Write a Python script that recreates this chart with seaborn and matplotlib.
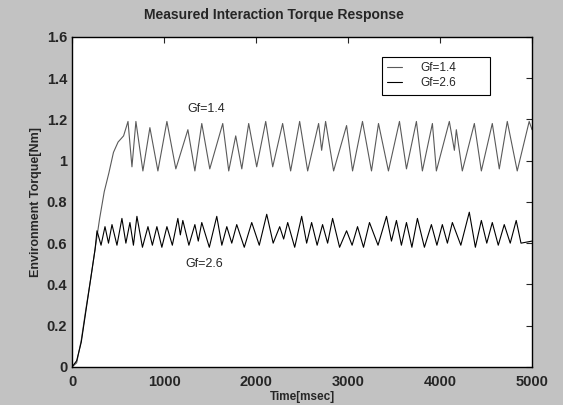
import matplotlib
matplotlib.use("Agg")
import matplotlib.pyplot as plt
import pandas as pd
import seaborn as sns

# vertices: time [msec], torque [Nm]
t_gf14 = [0, 50, 100, 150, 200, 250, 300, 350, 400, 450, 500, 560,
          608, 651, 694, 770, 846, 933, 1031, 1128, 1259, 1335, 1410, 1497,
          1638, 1703, 1779, 1845, 1920, 2007, 2105, 2181, 2289, 2376, 2474, 2561,
          2680, 2713, 2756, 2843, 2984, 3049, 3157, 3255, 3331, 3439, 3559, 3635,
          3743, 3808, 3917, 3960, 4101, 4156, 4177, 4242, 4373, 4449, 4568, 4644,
          4731, 4839, 4969, 5000]
v_gf14 = [0.0, 0.02, 0.13, 0.28, 0.42, 0.57, 0.72, 0.85, 0.94, 1.04, 1.09, 1.12,
          1.19, 0.97, 1.19, 0.95, 1.16, 0.95, 1.19, 0.96, 1.15, 0.95, 1.18, 0.96,
          1.18, 0.95, 1.12, 0.96, 1.18, 0.97, 1.19, 0.97, 1.18, 0.95, 1.19, 0.95,
          1.18, 1.05, 1.19, 0.95, 1.17, 0.95, 1.19, 0.95, 1.18, 0.95, 1.19, 0.96,
          1.19, 0.95, 1.18, 0.95, 1.19, 1.05, 1.15, 0.95, 1.18, 0.95, 1.18, 0.96,
          1.19, 0.95, 1.19, 1.15]

t_gf26 = [0, 50, 100, 150, 200, 250,
          271, 315, 358, 396, 434, 488, 542, 585, 629, 667, 705, 765, 825, 873,
          922, 976, 1031, 1090, 1150, 1177, 1204, 1270, 1335, 1372, 1410, 1492,
          1573, 1628, 1682, 1736, 1790, 1872, 1953, 2035, 2116, 2186, 2257, 2300,
          2344, 2420, 2496, 2550, 2604, 2664, 2723, 2778, 2832, 2908, 2984, 3044,
          3103, 3168, 3233, 3326, 3418, 3472, 3526, 3580, 3635, 3694, 3754, 3830,
          3906, 3966, 4025, 4080, 4134, 4226, 4318, 4384, 4449, 4508, 4568, 4633,
          4698, 4763, 4828, 4880, 5000]
v_gf26 = [0.0, 0.03, 0.12, 0.27, 0.42, 0.57,
          0.66, 0.59, 0.68, 0.60, 0.69, 0.59, 0.72, 0.60, 0.70, 0.59, 0.73, 0.58, 0.68, 0.59,
          0.68, 0.58, 0.68, 0.59, 0.72, 0.64, 0.71, 0.59, 0.69, 0.61, 0.70, 0.58,
          0.73, 0.59, 0.68, 0.60, 0.69, 0.58, 0.70, 0.59, 0.74, 0.60, 0.68, 0.62,
          0.70, 0.58, 0.73, 0.60, 0.70, 0.59, 0.69, 0.60, 0.72, 0.58, 0.66, 0.59,
          0.68, 0.58, 0.70, 0.59, 0.73, 0.61, 0.71, 0.59, 0.70, 0.58, 0.72, 0.58,
          0.69, 0.59, 0.69, 0.60, 0.70, 0.59, 0.75, 0.58, 0.71, 0.60, 0.70, 0.59,
          0.69, 0.60, 0.71, 0.60, 0.61]

df14 = pd.DataFrame({"Time": t_gf14, "Torque": v_gf14})
df26 = pd.DataFrame({"Time": t_gf26, "Torque": v_gf26})

sns.set_style("white")
plt.rcParams['font.family'] = ['Liberation Sans', 'DejaVu Sans']

fig = plt.figure(figsize=(5.63, 4.05), dpi=100, facecolor="#c2c2c2")
ax = fig.add_axes([0.128, 0.094, 0.817, 0.815])
ax.set_facecolor("white")

sns.lineplot(data=df14, x="Time", y="Torque", ax=ax, color="#5a5a5a",
             linewidth=0.8, estimator=None, sort=False, label="Gf=1.4")
sns.lineplot(data=df26, x="Time", y="Torque", ax=ax, color="black",
             linewidth=0.8, estimator=None, sort=False, label="Gf=2.6")

ax.set_xlim(0, 5000)
ax.set_ylim(0, 1.6)
ax.set_xticks([0, 1000, 2000, 3000, 4000, 5000])
ax.set_yticks([0, 0.2, 0.4, 0.6, 0.8, 1, 1.2, 1.4, 1.6])
ax.set_yticklabels(["0", "0.2", "0.4", "0.6", "0.8", "1", "1.2", "1.4", "1.6"])
ax.tick_params(direction="in", top=True, right=True, length=4, width=0.8,
               labelsize=10.5)
ax.tick_params(axis="x", pad=6)
for lab in ax.get_xticklabels() + ax.get_yticklabels():
    lab.set_fontweight("bold")
for sp in ax.spines.values():
    sp.set_linewidth(1.0)
    sp.set_color("black")

fig.text(0.487, 0.963, "Measured Interaction Torque Response", fontsize=10,
         fontweight="bold", ha="center", va="center")
ax.set_xlabel("Time[msec]", fontsize=8.5, fontweight="bold", labelpad=1)
ax.set_ylabel("Environment Torque[Nm]", fontsize=9, fontweight="bold",
              labelpad=3)

ax.text(1464, 1.25, "Gf=1.4", fontsize=9, ha="center", va="center")
ax.text(1440, 0.50, "Gf=2.6", fontsize=9, ha="center", va="center")

leg = ax.legend(loc="upper left", bbox_to_anchor=(0.674, 0.836, 0.235, 0.103),
                mode="expand", borderaxespad=0, fancybox=False,
                edgecolor="black", framealpha=1, fontsize=8.5,
                handlelength=1.2, handletextpad=1.6,
                borderpad=0.45, labelspacing=0.25)
leg.get_frame().set_linewidth(0.8)

fig.savefig("out.png", dpi=100, facecolor=fig.get_facecolor())
